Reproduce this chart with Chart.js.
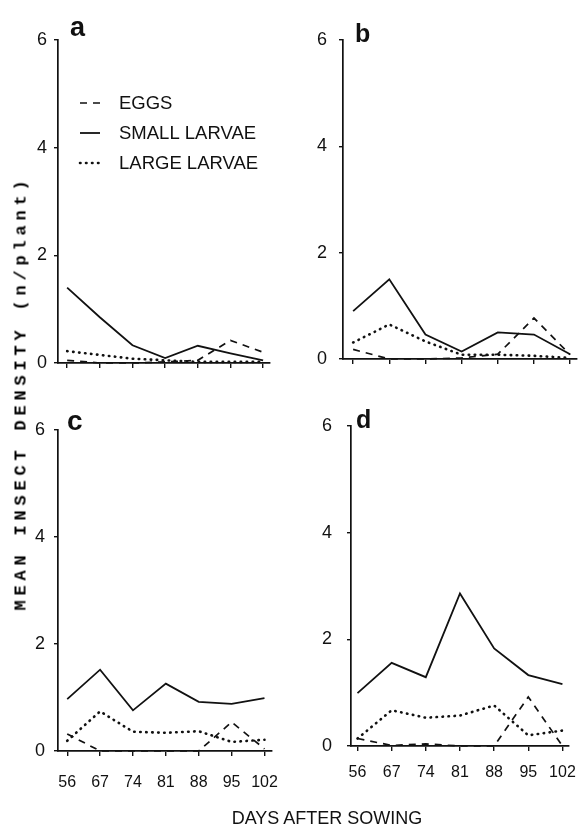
<!DOCTYPE html>
<html lang="en">
<head>
<meta charset="UTF-8">
<title>Mean insect density</title>
<script src="https://cdn.jsdelivr.net/npm/chart.js"></script>
<style>
  body { margin: 0; background: #fff; }
  #page { position: relative; width: 588px; height: 827px; overflow: hidden; }
  #page canvas { position: absolute; }
  #yTitle {
    position: absolute; left: 21px; top: 393px;
    transform: translate(-50%, -50%) rotate(-90deg);
    white-space: nowrap; color: #000;
    font: bold 17px "Liberation Mono", "DejaVu Sans Mono", monospace;
    letter-spacing: 4.8px;
  }
  #xTitle {
    position: absolute; left: 327px; top: 818px;
    transform: translate(-50%, -50%);
    white-space: nowrap; color: #111;
    font: 18px "Liberation Sans", Arial, sans-serif;
  }
</style>
</head>
<body>
<div id="page">
  <canvas id="chartA"></canvas>
  <canvas id="chartB"></canvas>
  <canvas id="chartC"></canvas>
  <canvas id="chartD"></canvas>
  <div id="yTitle">MEAN INSECT DENSITY (n/plant)</div>
  <div id="xTitle">DAYS AFTER SOWING</div>
</div>

<script>
  // x categories (days after sowing) and y ticks
  const days = [56, 67, 74, 81, 88, 95, 102];
  const yTicks = [0, 2, 4, 6];
  const seriesNames = ['EGGS', 'SMALL LARVAE', 'LARGE LARVAE'];

  // panel a
  const eggsA  = [0.05, 0, 0, 0.02, 0.05, 0.42, 0.2];
  const smallA = [1.4, 0.85, 0.33, 0.09, 0.32, 0.18, 0.05];
  const largeA = [0.22, 0.15, 0.08, 0.05, 0.02, 0.02, 0.02];
  // panel b
  const eggsB  = [0.18, 0, 0, 0.02, 0.09, 0.77, 0.08];
  const smallB = [0.9, 1.5, 0.46, 0.14, 0.5, 0.46, 0.09];
  const largeB = [0.31, 0.65, 0.33, 0.08, 0.08, 0.06, 0.02];
  // panel c
  const eggsC  = [0.32, 0, 0, 0, 0, 0.54, 0.04];
  const smallC = [0.97, 1.52, 0.76, 1.26, 0.92, 0.88, 0.99];
  const largeC = [0.19, 0.74, 0.36, 0.34, 0.37, 0.17, 0.21];
  // panel d
  const eggsD  = [0.14, 0.01, 0.04, 0, 0, 0.92, 0];
  const smallD = [0.99, 1.56, 1.29, 2.86, 1.83, 1.33, 1.16];
  const largeD = [0.14, 0.67, 0.53, 0.57, 0.76, 0.2, 0.29];

  const ink = '#111';
  const sans = '"Liberation Sans", Arial, sans-serif';

  // draws the panel letter and (for panel a) the legend inside the plot
  const panelDecor = {
    id: 'panelDecor',
    afterDraw(chart, args, opts) {
      const ctx = chart.ctx;
      ctx.save();
      ctx.fillStyle = ink;
      ctx.font = 'bold ' + opts.letterSize + 'px ' + sans;
      ctx.textBaseline = 'alphabetic';
      ctx.fillText(opts.letter, opts.letterX, opts.letterY);

      if (opts.legend) {
        ctx.font = '18.5px ' + sans;
        ctx.textBaseline = 'middle';
        chart.data.datasets.forEach((ds, i) => {
          const y = opts.legendY[i];
          ctx.save();
          ctx.strokeStyle = ds.borderColor;
          ctx.lineWidth = ds.borderWidth;
          ctx.lineCap = ds.borderCapStyle || 'butt';
          ctx.setLineDash(ds.borderDash || []);
          ctx.beginPath();
          ctx.moveTo(80, y);
          ctx.lineTo(100, y);
          ctx.stroke();
          ctx.restore();
          ctx.fillText(ds.label, 119, y + 1);
        });
      }
      ctx.restore();
    }
  };

  function makePanel(id, p, eggs, small, large) {
    const canvas = document.getElementById(id);
    const [bx, by, bw, bh] = p.box;
    canvas.width = bw;
    canvas.height = bh;
    canvas.style.left = bx + 'px';
    canvas.style.top = by + 'px';

    const yWidth = p.area[0] - bx;
    const padTop = p.area[1] - by;
    const padRight = bx + bw - p.area[2];
    const xHeight = by + bh - p.area[3];

    const pts = arr => arr.map((v, i) => ({ x: i, y: v }));

    return new Chart(canvas.getContext('2d'), {
      type: 'line',
      data: {
        datasets: [
          { label: seriesNames[0], data: pts(eggs), borderColor: ink, borderWidth: 1.7,
            borderDash: [7, 6], clip: false },
          { label: seriesNames[1], data: pts(small), borderColor: ink, borderWidth: 1.8,
            clip: false },
          { label: seriesNames[2], data: pts(large), borderColor: ink, borderWidth: 2.6,
            borderDash: [0.5, 5.5], borderCapStyle: 'round', clip: false }
        ]
      },
      options: {
        responsive: false,
        animation: false,
        layout: { padding: { left: 0, top: padTop, right: padRight, bottom: 0 } },
        elements: { point: { radius: 0 }, line: { tension: 0 } },
        plugins: {
          legend: { display: false },
          tooltip: { enabled: false },
          panelDecor: {
            letter: p.letter, letterSize: p.letterSize,
            letterX: p.letterPos[0] - bx, letterY: p.letterPos[1] - by,
            legend: !!p.legend, legendY: [103, 133, 163]
          }
        },
        scales: {
          x: {
            type: 'linear',
            min: p.idx[0],
            max: p.idx[1],
            afterFit: s => { s.height = xHeight; },
            afterBuildTicks: s => { s.ticks = days.map((d, i) => ({ value: i })); },
            ticks: {
              display: p.showX,
              callback: v => days[v],
              color: ink,
              font: { family: sans, size: 16 },
              padding: p.xPad,
              maxRotation: 0,
              autoSkip: false
            },
            grid: { drawOnChartArea: false, color: ink, lineWidth: 1.4, tickLength: 5 },
            border: { color: ink, width: 1.7 }
          },
          y: {
            min: 0,
            max: 6,
            afterFit: s => { s.width = yWidth; },
            afterBuildTicks: s => { s.ticks = yTicks.map(v => ({ value: v })); },
            ticks: {
              color: ink,
              font: { family: sans, size: 18 },
              padding: p.yPad
            },
            grid: { drawOnChartArea: false, color: ink, lineWidth: 1.4, tickLength: 4 },
            border: { color: ink, width: 1.7 }
          }
        }
      },
      plugins: [panelDecor]
    });
  }

  makePanel('chartA', {
    box: [0, 0, 290, 395], area: [58, 40, 270, 363], idx: [-0.28, 6.21],
    yPad: 7, showX: false, xPad: 0,
    letter: 'a', letterSize: 27, letterPos: [70, 36], legend: true
  }, eggsA, smallA, largeA);

  makePanel('chartB', {
    box: [290, 0, 298, 395], area: [343, 40, 577, 359], idx: [-0.28, 6.19],
    yPad: 12, showX: false, xPad: 0,
    letter: 'b', letterSize: 25, letterPos: [355, 42]
  }, eggsB, smallB, largeB);

  makePanel('chartC', {
    box: [0, 395, 295, 432], area: [58, 430, 290, 751], idx: [-0.28, 6.22],
    yPad: 9, showX: true, xPad: 17,
    letter: 'c', letterSize: 28, letterPos: [67, 430]
  }, eggsC, smallC, largeC);

  makePanel('chartD', {
    box: [290, 395, 298, 432], area: [351, 426, 580, 746], idx: [-0.19, 6.17],
    yPad: 15, showX: true, xPad: 12,
    letter: 'd', letterSize: 25, letterPos: [356, 428]
  }, eggsD, smallD, largeD);
</script>
</body>
</html>
